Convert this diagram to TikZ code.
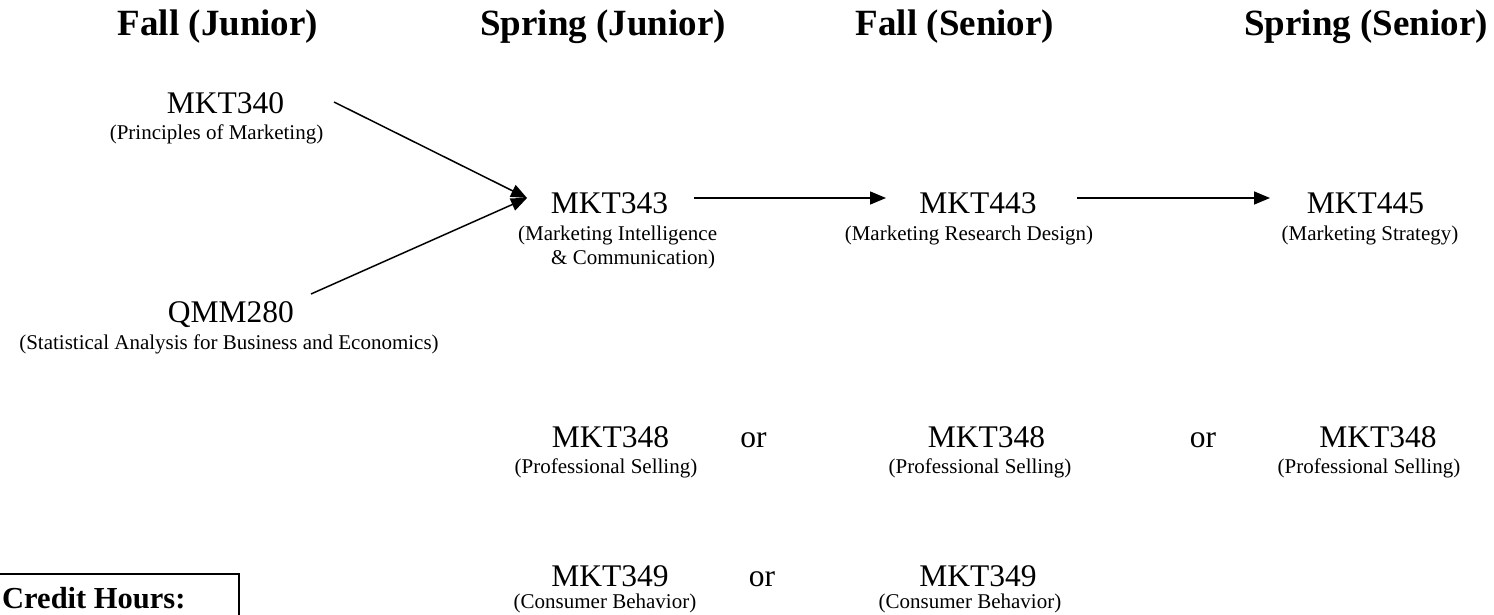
\documentclass[tikz,border=0pt]{standalone}
\usepackage{fontspec}
\setmainfont{Liberation Serif}
\usetikzlibrary{arrows.meta}
\tikzset{
  ttl/.style={font=\fontsize{37}{42}\selectfont\bfseries, inner sep=0pt, anchor=base},
  code/.style={font=\fontsize{31.5}{36}\selectfont, inner sep=0pt, anchor=base},
  sub/.style={font=\fontsize{21}{25}\selectfont, inner sep=0pt, anchor=base},
  subl/.style={font=\fontsize{21}{25}\selectfont, inner sep=0pt, anchor=base west},
  conn/.style={line width=1.5pt, -{Triangle[length=16pt,width=13pt]}},
  boxline/.style={line width=1.5pt}
}
\begin{document}
\begin{tikzpicture}[x=1pt,y=-1pt]
\useasboundingbox (0,0) rectangle (1494,615);
\clip (0,0) rectangle (1494,615);
% titles
\node[ttl] (t1) at (218,36) {Fall (Junior)};
\node[ttl] (t2) at (603,36) {Spring (Junior)};
\node[ttl] (t3) at (955,36) {Fall (Senior)};
\node[ttl] (t4) at (1366,36) {Spring (Senior)};
% fall junior
\node[code] (m340) at (225.5,114) {MKT340};
\node[sub] (m340s) at (216.5,140) {(Principles of Marketing)};
\node[code] (q280) at (231,322) {QMM280};
\node[sub] (q280s) at (229,349) {(Statistical Analysis for Business and Economics)};
% row 1
\node[code] (m343) at (609.5,213) {MKT343};
\node[subl] (m343s) at (518,240) {(Marketing Intelligence};
\node[subl] (m343t) at (551,264) {\& Communication)};
\node[code] (m443) at (978,213) {MKT443};
\node[sub] (m443s) at (969,240) {(Marketing Research Design)};
\node[code] (m445) at (1365.5,213) {MKT445};
\node[sub] (m445s) at (1370,240) {(Marketing Strategy)};
% row 2
\node[code] (a348) at (610.5,447) {MKT348};
\node[sub] (a348s) at (606,473) {(Professional Selling)};
\node[code] (or1) at (753.5,447) {or};
\node[code] (b348) at (986.5,447) {MKT348};
\node[sub] (b348s) at (980,473) {(Professional Selling)};
\node[code] (or2) at (1203,447) {or};
\node[code] (c348) at (1378,447) {MKT348};
\node[sub] (c348s) at (1369,473) {(Professional Selling)};
% row 3
\node[code] (a349) at (610,586) {MKT349};
\node[sub] (a349s) at (605,608) {(Consumer Behavior)};
\node[code] (or3) at (762,586) {or};
\node[code] (b349) at (978,586) {MKT349};
\node[sub] (b349s) at (970,608) {(Consumer Behavior)};
% credit hours box
\draw[boxline] (-20,574) -- (239,574) -- (239,640);
\node[font=\fontsize{30.5}{36}\selectfont\bfseries, inner sep=0pt, anchor=base west] (cred) at (2,608) {Credit Hours:};
% connector end points
\coordinate (s340) at (334,102);
\coordinate (s280) at (311,294);
\coordinate (in343) at (527,198);
\coordinate (o343) at (694,198);
\coordinate (in443) at (886,198);
\coordinate (o443) at (1077,198);
\coordinate (in445) at (1270,198);
\draw[conn] (s340) -- (in343);
\draw[conn] (s280) -- (in343);
\draw[conn] (o343) -- (in443);
\draw[conn] (o443) -- (in445);
\end{tikzpicture}
\end{document}
